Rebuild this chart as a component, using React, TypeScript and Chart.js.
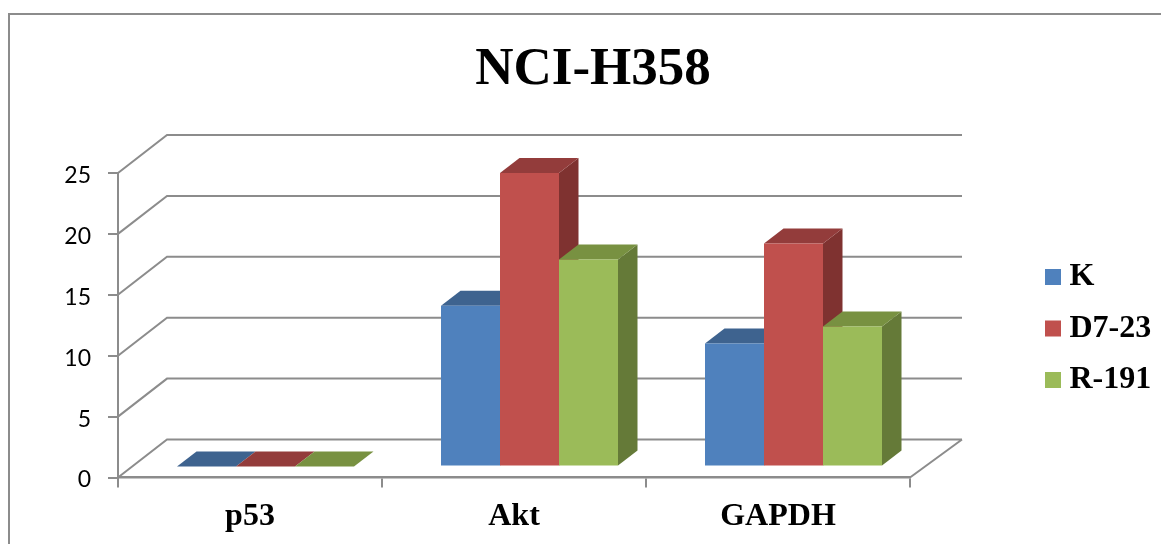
import React, { useEffect, useRef } from "react";
import { Chart, registerables } from "chart.js";

Chart.register(...registerables);

const categories = ["p53", "Akt", "GAPDH"];
const valuesK = [0, 13.2, 10.1];
const valuesD723 = [0, 24.1, 18.3];
const valuesR191 = [0, 17, 11.5];
const seriesNames = ["K", "D7-23", "R-191"];
const frontColors = ["#4f81bd", "#c0504d", "#9bbb59"];
const topColors = ["#3e638f", "#933c3b", "#789141"];
const sideColors = ["#34547a", "#7f3230", "#657a38"];

const GRID = "#8c8c8c";
const SERIF = "'Liberation Serif', serif";
const WALL_DX = 49;
const WALL_DY = 38;
const BAR_SHIFT_X = 15.5;
const BAR_SHIFT_Y = -11;
const BAR_DX = 19.5;
const BAR_DY = 15;

const depthPlugin = {
  id: "depth3d",
  afterLayout(chart: any) {
    const t = chart.titleBlock;
    t.left += 138; t.right += 138;
    const l = chart.legend;
    l.left = 1033;
    l.right = 1161;
    l.top = 241.5;
    l.bottom = 541.5;
  },
  beforeDraw(chart: any) {
    const { ctx } = chart;
    ctx.save();
    ctx.fillStyle = "#ffffff";
    ctx.fillRect(0, 0, chart.width, chart.height);
    ctx.strokeStyle = GRID;
    ctx.lineWidth = 2;
    ctx.beginPath();
    ctx.moveTo(9, 544);
    ctx.lineTo(9, 14);
    ctx.lineTo(1161, 14);
    ctx.stroke();
    ctx.restore();
    // The reference sets its value labels a little below their tick marks.
    for (const item of chart.scales.y.getLabelItems()) {
      if (!item.options.nudged) {
        item.options.translation = [item.options.translation[0], item.options.translation[1] + 2.5];
        item.options.nudged = true;
      }
    }
  },
  beforeDatasetsDraw(chart: any) {
    const { ctx, chartArea, scales } = chart;
    const { left, right } = chartArea;
    ctx.save();
    ctx.strokeStyle = GRID;
    ctx.lineWidth = 2;
    ctx.beginPath();
    for (const tick of scales.y.ticks) {
      const py = scales.y.getPixelForValue(tick.value);
      ctx.moveTo(left, py);
      ctx.lineTo(left + WALL_DX, py - WALL_DY);
      ctx.lineTo(right + WALL_DX + 3, py - WALL_DY);
    }
    const floor = scales.y.getPixelForValue(0);
    ctx.moveTo(right, floor);
    ctx.lineTo(right + WALL_DX + 3, floor - WALL_DY);
    ctx.stroke();
    ctx.restore();
  },
  // Painter's order: the left-hand series first, so each bar covers the depth of its left neighbour.
  beforeDatasetDraw() {
    return false;
  },
  afterDatasetsDraw(chart: any) {
    const { ctx } = chart;
    seriesNames.forEach((_, index) => {
      const meta = chart.getDatasetMeta(index);
      ctx.save();
      ctx.translate(BAR_SHIFT_X, BAR_SHIFT_Y);
      for (const bar of meta.data) {
        const x0 = bar.x - bar.width / 2;
        const x1 = bar.x + bar.width / 2;
        if (bar.base - bar.y > 0.5) {
          ctx.fillStyle = sideColors[index];
          ctx.beginPath();
          ctx.moveTo(x1, bar.y);
          ctx.lineTo(x1 + BAR_DX, bar.y - BAR_DY);
          ctx.lineTo(x1 + BAR_DX, bar.base - BAR_DY);
          ctx.lineTo(x1, bar.base);
          ctx.closePath();
          ctx.fill();
        }
        ctx.fillStyle = topColors[index];
        ctx.beginPath();
        ctx.moveTo(x0, bar.y);
        ctx.lineTo(x1, bar.y);
        ctx.lineTo(x1 + BAR_DX, bar.y - BAR_DY);
        ctx.lineTo(x0 + BAR_DX, bar.y - BAR_DY);
        ctx.closePath();
        ctx.fill();
      }
      meta.controller.draw();
      ctx.restore();
    });
  },
};

export default function App() {
  const ref = useRef<HTMLCanvasElement>(null);
  useEffect(() => {
    const allValues = [valuesK, valuesD723, valuesR191];
    const chart = new Chart(ref.current as HTMLCanvasElement, {
      type: "bar",
      data: {
        labels: categories,
        datasets: seriesNames.map((name, i) => ({
          label: name,
          data: allValues[i],
          backgroundColor: frontColors[i],
          borderWidth: 0,
          clip: false as any,
          categoryPercentage: 177 / 264,
          barPercentage: 1,
        })),
      },
      options: {
        responsive: false,
        animation: false,
        devicePixelRatio: 1,
        events: [],
        layout: { padding: { left: 0, top: 0, right: 251, bottom: 0 } },
        plugins: {
          tooltip: { enabled: false },
          title: {
            display: true,
            text: "NCI-H358",
            color: "#000000",
            font: { family: SERIF, size: 53, weight: "bold", lineHeight: 1.2 },
            padding: { top: 39, bottom: 70.4 },
          },
          legend: {
            position: "chartArea" as any,
            align: "start",
            labels: {
              boxWidth: 1,
              boxHeight: 1,
              padding: 19.5,
              color: "#000000",
              font: { family: SERIF, size: 32, weight: "bold", lineHeight: 1 },
              generateLabels: () =>
                seriesNames.map((name, i) => ({
                  text: name,
                  fillStyle: frontColors[i],
                  strokeStyle: frontColors[i],
                  lineWidth: 15,
                  datasetIndex: i,
                })) as any,
            },
          },
        },
        scales: {
          x: {
            afterFit: (s: any) => { s.height = 66.5; },
            border: { color: GRID, width: 2.5 },
            grid: { drawOnChartArea: false, color: GRID, lineWidth: 2, tickLength: 10 },
            ticks: {
              color: "#000000",
              padding: 10,
              maxRotation: 0,
              autoSkip: false,
              font: { family: SERIF, size: 32, weight: "bold" },
            },
          },
          y: {
            min: 0,
            max: 25,
            afterFit: (s: any) => { s.width = 118; },
            border: { color: GRID, width: 2 },
            grid: { drawOnChartArea: false, color: GRID, lineWidth: 2, tickLength: 10 },
            ticks: {
              stepSize: 5,
              color: "#000000",
              padding: 17,
              font: { family: "Lato", size: 23 },
            },
          },
        },
      },
      plugins: [depthPlugin as any],
    });
    return () => chart.destroy();
  }, []);
  return (
    <canvas
      ref={ref}
      width={1161}
      height={544}
      style={{ position: "fixed", left: 0, top: 0, width: 1161, height: 544 }}
    />
  );
}
